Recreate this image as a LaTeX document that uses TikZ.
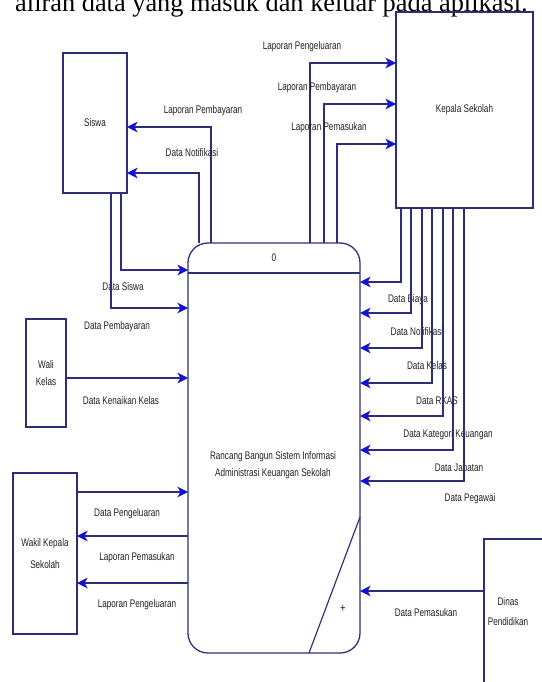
\documentclass[tikz,border=0pt]{standalone}
\usepackage{fontspec}
\setmainfont{Liberation Serif}
\newfontfamily\dfdfont[FakeStretch=0.74]{Liberation Sans}
\usetikzlibrary{arrows.meta, positioning, calc}
\definecolor{dfdline}{HTML}{2E2E78}
\definecolor{dfdtip}{HTML}{1212D0}
\definecolor{dfdtext}{HTML}{202020}

\begin{document}
\begin{tikzpicture}[
    x=0.03cm, y=-0.03cm,
    extentity/.style={
        rectangle,
        draw=dfdline,
        line width=1.1pt,
        inner sep=0pt,
        outer sep=0pt,
        align=center,
        text=dfdtext,
        font=\dfdfont\fontsize{9.4}{15}\selectfont
    },
    procbox/.style={
        rectangle,
        rounded corners=17pt,
        draw=dfdline,
        line width=1.1pt,
        minimum width=5.16cm,
        minimum height=12.3cm,
        inner sep=0pt,
        outer sep=0pt
    },
    dataflow/.style={
        -{Stealth[length=9pt, width=9pt, inset=2.5pt, color=dfdtip]},
        line width=1pt,
        draw=dfdline
    },
    flowlabel/.style={
        text=dfdtext,
        font=\dfdfont\fontsize{9.4}{10}\selectfont,
        inner sep=1pt
    }
]
\useasboundingbox (0,0) rectangle (542,682);

% Text line of the page above the figure
\node[font=\fontsize{22.5}{27}\selectfont, anchor=base west, inner sep=0pt] (pageline) at (15,12) {aliran data yang masuk dan keluar pada aplikasi.};

% Process
\node[procbox] (proc) at (274,448) {};
\draw[dfdline, line width=1.1pt] (proc.west |- 0,273) -- (proc.east |- 0,273);
\draw[dfdline, line width=1pt] (proc.south -| 309,0) -- (proc.east |- 0,517);
\node[flowlabel] (procid) at (274,258) {0};
\node[flowlabel, align=center] (proctext) at (273,465) {Rancang Bangun Sistem Informasi\\[5pt]Administrasi Keuangan Sekolah};
\node[flowlabel, font=\dfdfont\fontsize{11}{12}\selectfont] (procplus) at (343,609) {+};

% External entities
\node[extentity, minimum width=1.92cm, minimum height=4.2cm] (siswa) at (95,123) {Siswa};
\node[extentity, minimum width=4.11cm, minimum height=5.88cm] (kepala) at (464.5,110) {Kepala Sekolah};
\node[extentity, minimum width=1.2cm, minimum height=3.24cm] (wali) at (46,373) {Wali\\Kelas};
\node[extentity, minimum width=1.92cm, minimum height=4.83cm] (wakil) at (45,553.5) {Wakil Kepala\\[4pt]Sekolah};
\node[extentity, minimum width=2.88cm, minimum height=5.43cm] (dinas) at (532,629.5) {};
\node[flowlabel, align=center, font=\dfdfont\fontsize{9.4}{17}\selectfont] (dinastext) at (508,612) {Dinas\\Pendidikan};

% Siswa
\draw[dataflow] (proc.north -| 211,0) |- (siswa.east |- 0,127);
\node[flowlabel] at (203,111) {Laporan Pembayaran};
\draw[dataflow] (proc.north -| 199,0) |- (siswa.east |- 0,173);
\node[flowlabel] at (192,153) {Data Notifikasi};
\draw[dataflow] (siswa.south -| 121,0) |- (proc.west |- 0,270);
\node[flowlabel] at (123,287) {Data Siswa};
\draw[dataflow] (siswa.south -| 111,0) |- (proc.west |- 0,308);
\node[flowlabel] at (117,327) {Data Pembayaran};

% Kepala Sekolah
\draw[dataflow] (proc.north -| 310,0) |- (kepala.west |- 0,63);
\node[flowlabel] at (302,47) {Laporan Pengeluaran};
\draw[dataflow] (proc.north -| 324,0) |- (kepala.west |- 0,104);
\node[flowlabel] at (317,88) {Laporan Pembayaran};
\draw[dataflow] (proc.north -| 337,0) |- (kepala.west |- 0,144);
\node[flowlabel] at (329,128) {Laporan Pemasukan};

\draw[dataflow] (kepala.south -| 401,0) |- (proc.east |- 0,282);
\node[flowlabel] at (408,300) {Data Biaya};
\draw[dataflow] (kepala.south -| 411,0) |- (proc.east |- 0,313);
\node[flowlabel] at (417,332) {Data Notifikasi};
\draw[dataflow] (kepala.south -| 422,0) |- (proc.east |- 0,348);
\node[flowlabel] at (427,366) {Data Kelas};
\draw[dataflow] (kepala.south -| 432,0) |- (proc.east |- 0,383);
\node[flowlabel] at (437,401) {Data RKAS};
\draw[dataflow] (kepala.south -| 443,0) |- (proc.east |- 0,416);
\node[flowlabel] at (448,435) {Data Kategori Keuangan};
\draw[dataflow] (kepala.south -| 453,0) |- (proc.east |- 0,450);
\node[flowlabel] at (459,468) {Data Jabatan};
\draw[dataflow] (kepala.south -| 464,0) |- (proc.east |- 0,481);
\node[flowlabel] at (470,499) {Data Pegawai};

% Wali Kelas
\draw[dataflow] (wali.east |- 0,378) -- (proc.west |- 0,378);
\node[flowlabel] at (121,401) {Data Kenaikan Kelas};

% Wakil Kepala Sekolah
\draw[dataflow] (wakil.east |- 0,492) -- (proc.west |- 0,492);
\node[flowlabel] at (127,514) {Data Pengeluaran};
\draw[dataflow] (proc.west |- 0,536) -- (wakil.east |- 0,536);
\node[flowlabel] at (137,558) {Laporan Pemasukan};
\draw[dataflow] (proc.west |- 0,583) -- (wakil.east |- 0,583);
\node[flowlabel] at (137,605) {Laporan Pengeluaran};

% Dinas Pendidikan
\draw[dataflow] (dinas.west |- 0,591) -- (proc.east |- 0,591);
\node[flowlabel] at (426,613) {Data Pemasukan};

\end{tikzpicture}
\end{document}
